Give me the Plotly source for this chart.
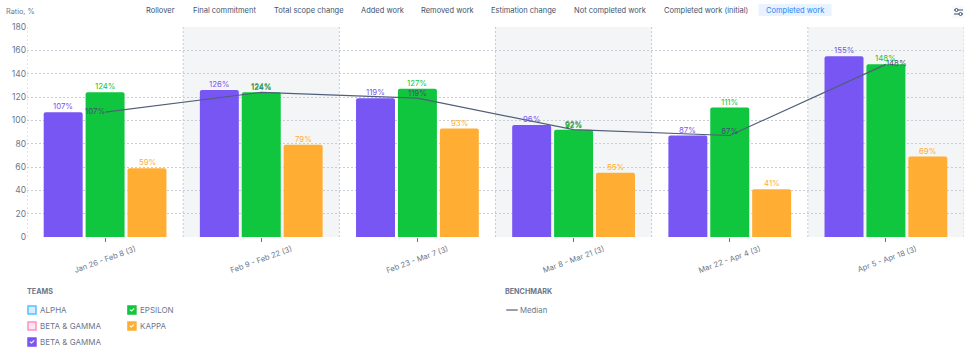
import plotly.graph_objects as go

W, H = 970, 355
ML, MR, MT, MB = 27, 5.5, 27, 118

categories = ["Jan 26 - Feb 8 (3)", "Feb 9 - Feb 22 (3)", "Feb 23 - Mar 7 (3)",
              "Mar 8 - Mar 21 (3)", "Mar 22 - Apr 4 (3)", "Apr 5 - Apr 18 (3)"]
beta_gamma = [107, 126, 119, 96, 87, 155]
epsilon = [124, 124, 127, 92, 111, 148]
kappa = [59, 79, 93, 55, 41, 69]
median = [107, 124, 119, 92, 87, 148]
median_pos = ["middle left", "top center", "top center", "top center", "top center", "middle right"]
tabs = ["Rollover", "Final commitment", "Total scope change", "Added work", "Removed work",
        "Estimation change", "Not completed work", "Completed work (initial)", "Completed work"]
tab_x = [161, 225, 309, 382.5, 448, 524, 610, 706, 795]

PURPLE, GREEN, ORANGE = "#7856F3", "#10C63F", "#FFAE33"
TXT, MUTED, GRID = "#42526E", "#6B778C", "#C8CCD4"
FONT = "Inter"
LAB = 7.8


def px(x):
    return (x - ML) / (W - ML - MR)


def py(y):
    return 1 - (y - MT) / (H - MT - MB)


fig = go.Figure()
anns = []
series = [("BETA & GAMMA", beta_gamma, PURPLE, -42), ("EPSILON", epsilon, GREEN, 0), ("KAPPA", kappa, ORANGE, 42)]
for name, vals, col, shift in series:
    fig.add_bar(x=categories, y=vals, name=name, marker=dict(color=col, line=dict(width=0)), showlegend=False)
    for c, v in zip(categories, vals):
        anns.append(dict(x=c, y=v, xref="x", yref="y", text=f"{v}%", showarrow=False, xshift=shift, yshift=6,
                         xanchor="center", yanchor="middle", borderpad=0, borderwidth=0,
                         font=dict(color=col, size=LAB, family=FONT)))
fig.add_scatter(x=categories, y=median, mode="lines+text", name="Median",
                line=dict(color="#505F79", width=1.2), text=[f"{v}%" for v in median],
                textposition=median_pos, textfont=dict(color=TXT, size=LAB, family=FONT),
                cliponaxis=False, showlegend=False)

shapes = []
for i in range(len(categories)):
    if i % 2 == 1:
        shapes.append(dict(type="rect", xref="x", yref="paper", x0=i - .5, x1=i + .5, y0=0, y1=1,
                           fillcolor="#F4F5F7", line_width=0, layer="below"))
for i in range(len(categories) + 1):
    shapes.append(dict(type="line", xref="x", yref="paper", x0=i - .5, x1=i - .5, y0=0, y1=1,
                       line=dict(color=GRID, width=1, dash="2px,2px"), layer="below"))


def rect(x0, y0, x1, y1, fill, line=None, lw=0):
    shapes.append(dict(type="rect", xref="paper", yref="paper", x0=px(x0), x1=px(x1), y0=py(y0), y1=py(y1),
                       fillcolor=fill, line=dict(color=line or fill, width=lw)))


def label(x, y, text, color=TXT, size=7.5, anchor="left", bold=False):
    anns.append(dict(xref="paper", yref="paper", x=px(x), y=py(y), text=f"<b>{text}</b>" if bold else text,
                     showarrow=False, xanchor=anchor, yanchor="middle", align="left", borderpad=0, borderwidth=0,
                     font=dict(family=FONT, size=size, color=color)))


# top tabs
rect(759, 4, 832, 16, "#E9F2FF")
for t, x in zip(tabs, tab_x):
    label(x, 10, t, color="#2684FF" if t == "Completed work" else TXT, size=7.5, anchor="center")
label(6, 11, "Ratio, %", color=MUTED, size=7.3)

# settings icon
rect(953, 6, 965, 18, "#F7F8F9")
for yy, a in [(10, 957), (14, 961)]:
    shapes.append(dict(type="line", xref="paper", yref="paper", x0=px(954.5), x1=px(963.5), y0=py(yy), y1=py(yy),
                       line=dict(color=TXT, width=1)))
    shapes.append(dict(type="circle", xref="paper", yref="paper", x0=px(a - 1.5), x1=px(a + 1.5),
                       y0=py(yy + 1.5), y1=py(yy - 1.5), fillcolor="white", line=dict(color=TXT, width=1)))

# legend
label(27.5, 291, "TEAMS", color=MUTED, size=7.2, bold=True)
label(505, 291, "BENCHMARK", color=MUTED, size=7.2, bold=True)
legend_items = [("ALPHA", 28, 310, "#DEEBFF", "#4FC3FF", False), ("BETA & GAMMA", 28, 326, "#FDE7F1", "#FF8FC7", False),
                ("BETA & GAMMA", 28, 342, PURPLE, PURPLE, True), ("EPSILON", 128, 310, GREEN, GREEN, True),
                ("KAPPA", 128, 326, ORANGE, ORANGE, True)]
for name, x, y, fill, line, checked in legend_items:
    shapes.append(dict(type="rect", xref="paper", yref="paper", x0=px(x), x1=px(x + 8), y0=py(y + 4), y1=py(y - 4),
                       fillcolor=fill, line=dict(color=line, width=1.5)))
    if checked:
        label(x + 4, y, "✓", color="white", size=6.5, anchor="center", bold=True)
    label(x + 12, y, name, color=MUTED, size=8)
shapes.append(dict(type="line", xref="paper", yref="paper", x0=px(506.5), x1=px(518), y0=py(310), y1=py(310),
                   line=dict(color="#505F79", width=1.2)))
label(520.5, 310, "Median", color=MUTED, size=7.8)

fig.update_layout(
    width=W, height=H, margin=dict(l=ML, r=MR, t=MT, b=MB), autosize=False,
    paper_bgcolor="white", plot_bgcolor="white", barmode="group", bargap=0.195, bargroupgap=0.07,
    barcornerradius=2, shapes=shapes, annotations=anns, font=dict(family=FONT, color=MUTED, size=8.5),
    showlegend=False,
    xaxis=dict(type="category", range=[-0.5, 5.5], showgrid=False, zeroline=False, showline=False,
               ticks="outside", ticklen=4, tickcolor="#6B778C", tickwidth=1, tickangle=-20,
               ticklabelshift=30, ticklabelstandoff=0, tickfont=dict(size=7.6, color=MUTED, family=FONT),
               categoryorder="array", categoryarray=categories),
    yaxis=dict(range=[0, 180], tick0=0, dtick=20, showgrid=True, griddash="2px,2px", gridcolor=GRID, gridwidth=1,
               zeroline=False, showline=False, ticks="",
               tickfont=dict(size=8.5, color=MUTED, family=FONT)),
)
fig.write_html("out.html", post_script="document.body.style.margin='0';", config={"displayModeBar": False})
